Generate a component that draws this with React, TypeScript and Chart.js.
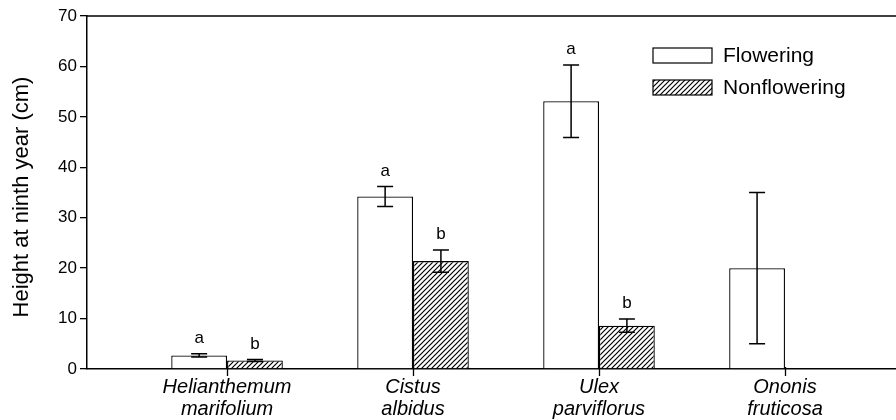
import { useEffect, useRef } from "react";
import { Chart, registerables } from "chart.js";

Chart.register(...registerables);

const categories: string[][] = [
  ["Helianthemum", "marifolium"],
  ["Cistus", "albidus"],
  ["Ulex", "parviflorus"],
  ["Ononis", "fruticosa"],
];
const flowering: (number | null)[] = [2.7, 34.2, 53.1, 20.0];
const floweringErr: (number | null)[] = [0.3, 2.0, 7.2, 15.0];
const floweringLetters = ["a", "a", "a", ""];
const nonflowering: (number | null)[] = [1.7, 21.4, 8.6, null];
const nonfloweringErr: (number | null)[] = [0.2, 2.2, 1.3, null];
const nonfloweringLetters = ["b", "b", "b", ""];
const seriesNames = ["Flowering", "Nonflowering"];
const yTitle = "Height at ninth year (cm)";
const yMin = 0;
const yMax = 70;
const yStep = 10;

const FONT = "'Liberation Sans', Arial, Helvetica, sans-serif";

function makeHatch(): CanvasPattern | string {
  const s = 5;
  const c = document.createElement("canvas");
  c.width = s;
  c.height = s;
  const g = c.getContext("2d");
  if (!g) return "#888";
  g.fillStyle = "#fff";
  g.fillRect(0, 0, s, s);
  g.strokeStyle = "#000";
  g.lineWidth = 1.2;
  g.beginPath();
  g.moveTo(0, s);
  g.lineTo(s, 0);
  g.moveTo(-1, 1);
  g.lineTo(1, -1);
  g.moveTo(s - 1, s + 1);
  g.lineTo(s + 1, s - 1);
  g.stroke();
  const p = g.createPattern(c, "repeat");
  return p || "#888";
}

export default function App() {
  const ref = useRef<HTMLCanvasElement | null>(null);

  useEffect(() => {
    if (!ref.current) return;
    const hatch = makeHatch();
    const errs = [floweringErr, nonfloweringErr];
    const letters = [floweringLetters, nonfloweringLetters];

    const extras = {
      id: "extras",
      afterDatasetsDraw(chart: any) {
        const ctx = chart.ctx;
        const ys = chart.scales.y;
        const xs = chart.scales.x;
        const area = chart.chartArea;
        ctx.save();
        // top frame line
        ctx.strokeStyle = "#000";
        ctx.lineWidth = 1.3;
        ctx.beginPath();
        ctx.moveTo(area.left, area.top);
        ctx.lineTo(area.right, area.top);
        ctx.stroke();
        // category tick marks below the x axis
        ctx.lineWidth = 1.3;
        ctx.beginPath();
        categories.forEach((_, i) => {
          const px = Math.round(xs.getPixelForValue(i)) + 0.5;
          ctx.moveTo(px, area.bottom - 2);
          ctx.lineTo(px, area.bottom + 7);
        });
        ctx.stroke();
        // error bars + letters
        chart.data.datasets.forEach((ds: any, di: number) => {
          const meta = chart.getDatasetMeta(di);
          meta.data.forEach((el: any, j: number) => {
            const v = ds.data[j].y;
            const e = errs[di][j];
            if (v == null || e == null) return;
            const x = el.x;
            const yt = ys.getPixelForValue(v + e);
            const yb = ys.getPixelForValue(v - e);
            ctx.strokeStyle = "#000";
            ctx.lineWidth = 1.5;
            ctx.beginPath();
            ctx.moveTo(x, yt);
            ctx.lineTo(x, yb);
            ctx.moveTo(x - 8, yt);
            ctx.lineTo(x + 8, yt);
            ctx.moveTo(x - 8, yb);
            ctx.lineTo(x + 8, yb);
            ctx.stroke();
            const L = letters[di][j];
            if (L) {
              ctx.fillStyle = "#000";
              ctx.font = `17px ${FONT}`;
              ctx.textAlign = "center";
              ctx.textBaseline = "bottom";
              ctx.fillText(L, x, yt - 7);
            }
          });
        });
        // legend
        const lx = area.right - 243;
        const rows = [area.top + 32, area.top + 64];
        rows.forEach((ry, i) => {
          ctx.fillStyle = i === 0 ? "#fff" : hatch;
          ctx.fillRect(lx, ry, 59, 15);
          ctx.strokeStyle = "#000";
          ctx.lineWidth = 1.2;
          ctx.strokeRect(lx, ry, 59, 15);
          ctx.fillStyle = "#000";
          ctx.font = `21px ${FONT}`;
          ctx.textAlign = "left";
          ctx.textBaseline = "middle";
          ctx.fillText(seriesNames[i], lx + 70, ry + 8);
        });
        // y title
        ctx.save();
        ctx.translate(22, 197);
        ctx.rotate(-Math.PI / 2);
        ctx.fillStyle = "#000";
        ctx.font = `22px ${FONT}`;
        ctx.textAlign = "center";
        ctx.textBaseline = "middle";
        ctx.fillText(yTitle, 0, 0);
        ctx.restore();
        ctx.restore();
      },
    };

    const chart = new Chart(ref.current, {
      type: "bar",
      data: {
        datasets: [
          {
            label: seriesNames[0],
            data: flowering.map((v, i) => ({ x: i, y: v })) as any,
            backgroundColor: "#fff",
            borderColor: "#000",
            borderWidth: 1.3,
            borderSkipped: "bottom",
            barPercentage: 1,
            categoryPercentage: 0.6,
          },
          {
            label: seriesNames[1],
            data: nonflowering.map((v, i) => ({ x: i, y: v })) as any,
            backgroundColor: hatch as any,
            borderColor: "#000",
            borderWidth: 1.3,
            borderSkipped: "bottom",
            barPercentage: 1,
            categoryPercentage: 0.6,
          },
        ],
      },
      options: {
        responsive: false,
        animation: false,
        layout: { padding: { top: 16, left: 0, right: 0, bottom: 0 } },
        plugins: {
          legend: { display: false },
          tooltip: { enabled: false },
        },
        scales: {
          x: {
            type: "linear",
            min: -0.753,
            max: 3.597,
            offset: false,
            grid: {
              display: false,
              drawOnChartArea: false,
              drawTicks: false,
            },
            border: { display: true, color: "#000", width: 1.5 },
            afterBuildTicks: (scale: any) => {
              scale.ticks = categories.map((_, i) => ({ value: i }));
            },
            afterFit: (scale: any) => {
              scale.height = 51;
            },
            ticks: {
              autoSkip: false,
              maxRotation: 0,
              padding: 7,
              color: "#000",
              font: { family: FONT, size: 20, style: "italic", lineHeight: 1.1 },
              callback: (v: any) => categories[Math.round(Number(v))] ?? "",
            },
          },
          y: {
            min: yMin,
            max: yMax,
            grid: {
              display: true,
              drawOnChartArea: false,
              drawTicks: true,
              tickLength: 7,
              color: "#000",
              lineWidth: 1.3,
            },
            border: { display: true, color: "#000", width: 1.5 },
            afterFit: (scale: any) => {
              scale.width = 87;
            },
            ticks: {
              stepSize: yStep,
              padding: 3,
              color: "#000",
              font: { family: FONT, size: 17 },
            },
          },
        },
      } as any,
      plugins: [extras],
    });
    return () => chart.destroy();
  }, []);

  return (
    <div style={{ position: "absolute", left: 0, top: 0, width: 896, height: 420, background: "#fff" }}>
      <canvas ref={ref} width={896} height={420} style={{ display: "block" }} />
    </div>
  );
}
